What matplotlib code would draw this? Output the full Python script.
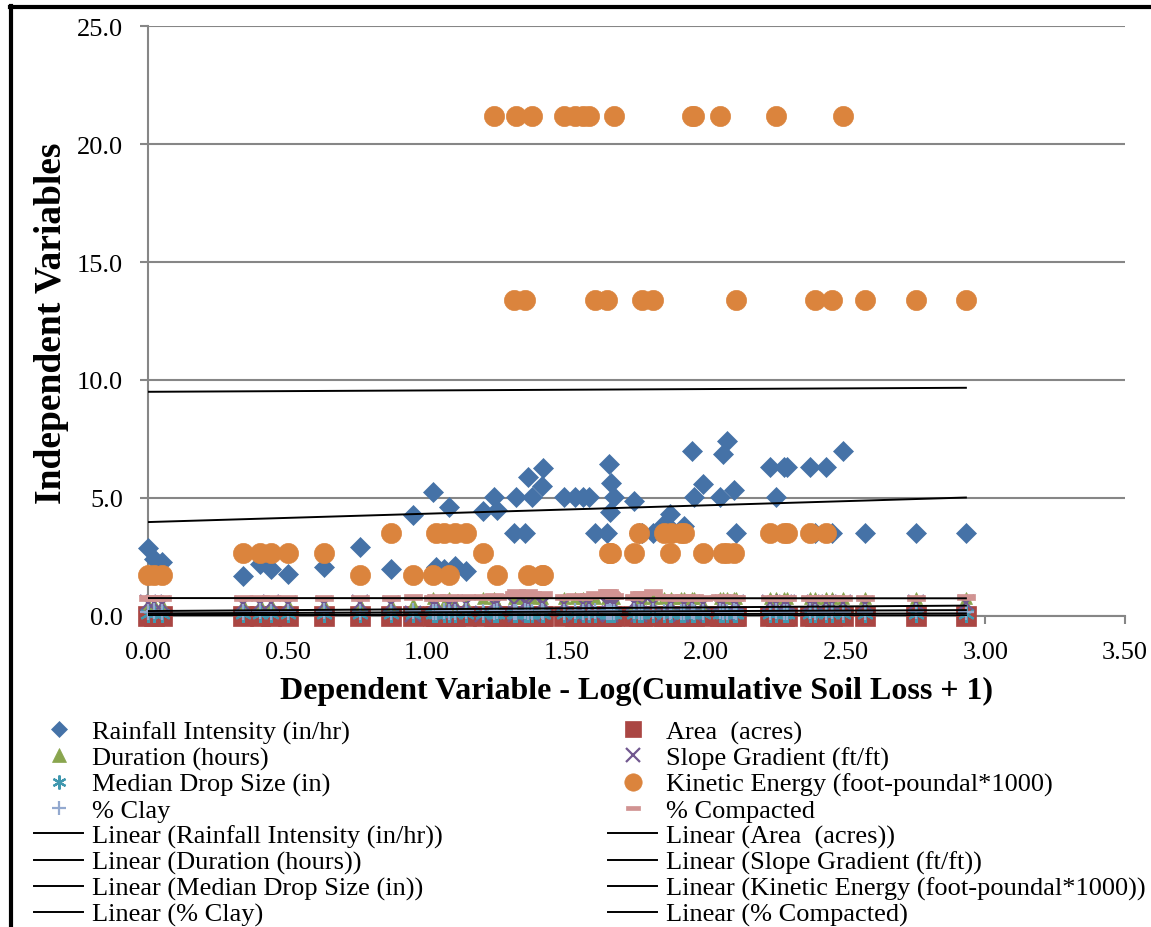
import numpy as np
import matplotlib
matplotlib.use("Agg")
import matplotlib.pyplot as plt
from matplotlib.lines import Line2D
from matplotlib.path import Path

plt.rcParams['font.family'] = ['Liberation Serif', 'DejaVu Serif']

# x: Log(Cumulative Soil Loss + 1), one value per observation
x_vals = [0.00, 0.02, 0.05, 0.34, 0.40, 0.44, 0.50, 0.63, 0.76, 0.87,
          0.95, 1.02, 1.03, 1.06, 1.08, 1.10, 1.14, 1.20, 1.24, 1.25,
          1.31, 1.32, 1.35, 1.36, 1.375, 1.41, 1.415, 1.49, 1.53, 1.56,
          1.58, 1.60, 1.645, 1.65, 1.655, 1.66, 1.67, 1.74, 1.76, 1.77,
          1.81, 1.85, 1.87, 1.875, 1.91, 1.92, 1.95, 1.955, 1.99, 2.05,
          2.06, 2.075, 2.10, 2.105, 2.23, 2.25, 2.28, 2.29, 2.37, 2.39,
          2.43, 2.45, 2.49, 2.57, 2.75, 2.93]

rain = [2.88, 2.40, 2.30, 1.69, 2.20, 2.00, 1.78, 2.07, 2.92, 2.00,
        4.28, 5.25, 2.07, 2.00, 4.60, 2.10, 1.90, 4.45, 5.04, 4.50,
        3.50, 5.04, 3.50, 5.90, 5.04, 5.50, 6.27, 5.04, 5.04, 5.04,
        5.04, 3.50, 3.50, 6.44, 4.40, 5.64, 5.04, 4.87, 3.50, 3.50,
        3.50, 3.90, 4.32, 3.70, 3.60, 3.80, 7.00, 5.04, 5.60, 5.04,
        6.86, 7.40, 5.35, 3.50, 6.30, 5.04, 6.30, 6.30, 6.30, 3.50,
        6.30, 3.50, 7.00, 3.50, 3.50, 3.50]

area = [0.01, 0.01, 0.02, 0.01, 0.01, 0.00, 0.01, 0.01, 0.01, 0.02,
        0.01, 0.01, 0.01, 0.00, 0.01, 0.01, 0.02, 0.01, 0.01, 0.01,
        0.01, 0.02, 0.01, 0.01, 0.00, 0.01, 0.01, 0.01, 0.02, 0.01,
        0.01, 0.01, 0.01, 0.02, 0.01, 0.00, 0.01, 0.01, 0.01, 0.01,
        0.02, 0.01, 0.01, 0.01, 0.00, 0.01, 0.01, 0.01, 0.02, 0.01,
        0.01, 0.01, 0.01, 0.00, 0.01, 0.01, 0.02, 0.01, 0.01, 0.01,
        0.01, 0.02, 0.01, 0.01, 0.01, 0.01]

duration = [0.50, 0.50, 0.50, 0.50, 0.50, 0.50, 0.50, 0.50, 0.50, 0.50,
            0.50, 0.75, 0.50, 0.50, 0.75, 0.50, 0.50, 0.75, 0.75, 0.50,
            0.75, 0.75, 0.75, 0.50, 0.75, 0.75, 0.50, 0.75, 0.75, 0.75,
            0.75, 0.75, 0.75, 0.50, 0.75, 0.75, 0.75, 0.50, 0.75, 0.75,
            0.75, 0.75, 0.50, 0.75, 0.75, 0.75, 0.75, 0.75, 0.50, 0.75,
            0.75, 0.75, 0.75, 0.75, 0.75, 0.75, 0.75, 0.75, 0.75, 0.75,
            0.75, 0.75, 0.75, 0.75, 0.75, 0.75]

slope = [0.55, 0.55, 0.50, 0.50, 0.50, 0.55, 0.50, 0.50, 0.55, 0.50,
         0.08, 0.50, 0.55, 0.08, 0.50, 0.55, 0.50, 0.08, 0.50, 0.55,
         0.50, 0.08, 0.55, 0.50, 0.08, 0.50, 0.55, 0.50, 0.08, 0.50,
         0.55, 0.08, 0.50, 0.55, 0.08, 0.50, 0.50, 0.55, 0.08, 0.50,
         0.50, 0.08, 0.55, 0.50, 0.08, 0.50, 0.55, 0.08, 0.50, 0.50,
         0.55, 0.08, 0.50, 0.55, 0.55, 0.50, 0.55, 0.55, 0.50, 0.55,
         0.55, 0.50, 0.55, 0.50, 0.55, 0.55]

drop_size = [0.08, 0.08, 0.08, 0.08, 0.08, 0.08, 0.08, 0.08, 0.08, 0.08,
             0.10, 0.08, 0.08, 0.10, 0.08, 0.08, 0.08, 0.10, 0.08, 0.08,
             0.10, 0.08, 0.08, 0.10, 0.08, 0.08, 0.10, 0.08, 0.08, 0.10,
             0.08, 0.08, 0.10, 0.08, 0.08, 0.10, 0.08, 0.08, 0.10, 0.08,
             0.08, 0.10, 0.08, 0.08, 0.10, 0.08, 0.08, 0.10, 0.08, 0.08,
             0.10, 0.08, 0.08, 0.10, 0.08, 0.08, 0.10, 0.08, 0.08, 0.10,
             0.08, 0.08, 0.10, 0.08, 0.08, 0.10]

ke = [1.75, 1.75, 1.75, 2.65, 2.65, 2.65, 2.65, 2.65, 1.75, 3.50,
      1.75, 1.75, 3.50, 3.50, 1.75, 3.50, 3.50, 2.65, 21.2, 1.75,
      13.4, 21.2, 13.4, 1.75, 21.2, 1.75, 1.75, 21.2, 21.2, 21.2,
      21.2, 13.4, 13.4, 2.65, 2.65, 2.65, 21.2, 2.65, 3.50, 13.4,
      13.4, 3.50, 2.65, 3.50, 3.50, 3.50, 21.2, 21.2, 2.65, 21.2,
      2.65, 2.65, 2.65, 13.4, 3.50, 21.2, 3.50, 3.50, 3.50, 13.4,
      3.50, 13.4, 21.2, 13.4, 13.4, 13.4]

clay = [0.15, 0.20, 0.15, 0.15, 0.20, 0.15, 0.15, 0.20, 0.15, 0.15,
        0.20, 0.15, 0.15, 0.20, 0.15, 0.15, 0.20, 0.15, 0.15, 0.20,
        0.15, 0.15, 0.20, 0.15, 0.15, 0.20, 0.15, 0.15, 0.20, 0.15,
        0.15, 0.20, 0.15, 0.15, 0.20, 0.15, 0.15, 0.20, 0.15, 0.15,
        0.20, 0.15, 0.15, 0.20, 0.15, 0.15, 0.20, 0.15, 0.15, 0.20,
        0.15, 0.15, 0.20, 0.15, 0.15, 0.20, 0.15, 0.15, 0.20, 0.15,
        0.15, 0.20, 0.15, 0.15, 0.20, 0.15]

compacted = [0.78, 0.78, 0.78, 0.75, 0.78, 0.75, 0.78, 0.75, 0.78, 0.75,
             0.80, 0.78, 0.80, 0.78, 0.80, 0.78, 0.80, 0.80, 0.85, 0.80,
             0.95, 1.00, 0.95, 1.00, 0.95, 0.90, 0.95, 0.80, 0.85, 0.80,
             0.85, 0.95, 1.00, 1.00, 0.95, 0.90, 0.85, 0.80, 0.95, 0.95,
             1.00, 0.80, 0.78, 0.80, 0.78, 0.80, 0.78, 0.80, 0.78, 0.80,
             0.78, 0.80, 0.78, 0.75, 0.78, 0.75, 0.78, 0.75, 0.78, 0.75,
             0.78, 0.75, 0.78, 0.75, 0.78, 0.80]

labels = ['Rainfall Intensity (in/hr)', 'Area  (acres)', 'Duration (hours)',
          'Slope Gradient (ft/ft)', 'Median Drop Size (in)',
          'Kinetic Energy (foot-poundal*1000)', '% Clay', '% Compacted']
colors = ['#4572A7', '#AA4643', '#89A54E', '#71588F', '#4198AF', '#DB843D',
          '#93A9CF', '#D19392']

# linear trendlines (value at first and last x)
trend_x = [0.0, 2.93]
trend_start = [3.98, 0.01, 0.11, 0.21, 0.02, 9.50, 0.04, 0.76]
trend_end = [5.02, 0.01, 0.25, 0.44, 0.03, 9.67, 0.11, 0.75]

dash = Path([(-1, -0.32), (1, -0.32), (1, 0.32), (-1, 0.32), (-1, -0.32)],
            [Path.MOVETO, Path.LINETO, Path.LINETO, Path.LINETO, Path.CLOSEPOLY])
asterisk = (6, 2, 0)

series = [rain, area, duration, slope, drop_size, ke, clay, compacted]
markers = ['D', 's', '^', 'x', asterisk, 'o', '+', dash]
sizes = [10.5, 14, 9, 11, 12, 14.5, 12, 13]
leg_sizes = [8.5, 12, 10, 10, 10, 12.5, 10, 10]
line_markers = ['x', asterisk, '+']

fig = plt.figure(figsize=(11.51, 9.28), dpi=100)
ax = fig.add_axes([148 / 1151, 1 - 617 / 928, 977 / 1151, 590 / 928])

marker_handles = []
for i, vals in enumerate(series):
    mk = markers[i]
    is_line = mk in line_markers
    ax.plot(x_vals, vals, linestyle='none', marker=mk, ms=sizes[i],
            color=colors[i], mec=colors[i], mew=1.6 if is_line else 0.5,
            zorder=3 + i, clip_on=False)
    marker_handles.append(Line2D([], [], linestyle='none', marker=mk,
                                 ms=leg_sizes[i], color=colors[i],
                                 mec=colors[i], mew=1.6 if is_line else 0.5))

trend_handles = []
for i in range(len(series)):
    ax.plot(trend_x, [trend_start[i], trend_end[i]], color='black', lw=1.4,
            zorder=20)
    trend_handles.append(Line2D([], [], color='black', lw=1.4))

ax.set_xlim(0, 3.5)
ax.set_ylim(0, 25)
ax.set_xticks(np.arange(0, 3.51, 0.5))
ax.set_yticks(np.arange(0, 25.1, 5))
ax.xaxis.set_major_formatter(plt.FormatStrFormatter('%.2f'))
ax.yaxis.set_major_formatter(plt.FormatStrFormatter('%.1f'))
ax.grid(axis='y', color='#868686', lw=1.5)
ax.set_axisbelow(True)
for s in ['top', 'right']:
    ax.spines[s].set_visible(False)
for s in ['left', 'bottom']:
    ax.spines[s].set_color('#868686')
    ax.spines[s].set_linewidth(1.5)
ax.tick_params(axis='both', direction='out', color='#868686', width=1.5,
               length=6, labelsize=19, pad=12)

ax.set_xlabel('Dependent Variable - Log(Cumulative Soil Loss + 1)',
              fontsize=23, fontweight='bold', va='center')
ax.xaxis.set_label_coords((636 - 148) / 977, (617 - 691) / 590)
ax.set_ylabel('Independent Variables', fontsize=27, fontweight='bold',
              va='center')
ax.yaxis.set_label_coords((52 - 148) / 977, (617 - 323) / 590)

# legend: two columns, Excel ordering
left_idx = [0, 2, 4, 6]
right_idx = [1, 3, 5, 7]
for idx, x0 in [(left_idx, 34), (right_idx, 608)]:
    hs = [marker_handles[i] for i in idx] + [trend_handles[i] for i in idx]
    ls = [labels[i] for i in idx] + ['Linear (' + labels[i] + ')' for i in idx]
    fig.legend(hs, ls, loc='upper left',
               bbox_to_anchor=(x0 / 1151, 1 - 721 / 928),
               frameon=False, fontsize=19, handlelength=1.86,
               handletextpad=0.34, borderpad=0, borderaxespad=0,
               labelspacing=0.085)

# outer chart border (partially visible)
fig.add_artist(Line2D([11 / 1151, 11 / 1151], [0, 1 - 7 / 928],
                      transform=fig.transFigure, color='black', lw=3))
fig.add_artist(Line2D([9.5 / 1151, 1], [1 - 8 / 928, 1 - 8 / 928],
                      transform=fig.transFigure, color='black', lw=3))

fig.savefig('out.png', dpi=100)
